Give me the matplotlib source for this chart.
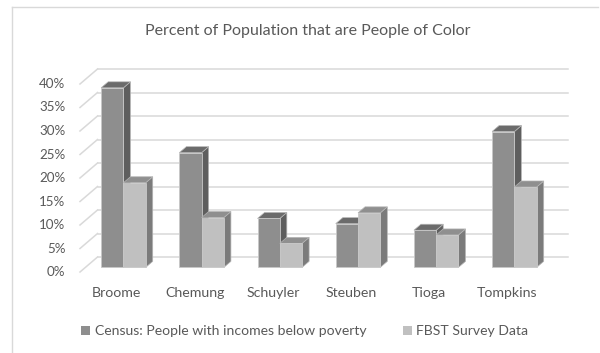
import matplotlib
matplotlib.use("Agg")
import matplotlib.pyplot as plt
from matplotlib.patches import Polygon, Rectangle, Patch

# Data
counties = ["Broome", "Chemung", "Schuyler", "Steuben", "Tioga", "Tompkins"]
census = [38.2, 24.4, 10.4, 9.3, 7.9, 28.9]
fbst = [18.0, 10.6, 5.1, 11.6, 6.9, 17.1]
series_names = ["Census: People with incomes below poverty", "FBST Survey Data"]
yticks = [0, 5, 10, 15, 20, 25, 30, 35, 40]

# Colours (front, top, side)
census_cols = ("#8e8e8e", "#6b6b6b", "#5e5e5e")
fbst_cols = ("#c0c0c0", "#8f8f8f", "#7b7b7b")
grid_col = "#d9d9d9"
text_col = "#595959"

plt.rcParams["font.family"] = ["Lato", "DejaVu Sans"]

fig = plt.figure(figsize=(6.0, 3.53), dpi=100)
ax = fig.add_axes([0, 0, 1, 1])
ax.set_xlim(-1.509, 6.164)
ax.set_ylim(-17.23, 57.87)
ax.axis("off")

# oblique depth vector (data units) and wall extents
dx, dy = 0.224, 3.19
x_left, x_right = -0.486, 5.53
bw = 0.285          # bar width
f0, bd = 0.31, 0.40  # bar front depth and bar depth (fractions of floor depth)

# back wall gridlines + left wall diagonals
for v in yticks:
    ax.plot([x_left + dx, x_right + dx], [v + dy, v + dy], color=grid_col, lw=1.1, zorder=1)
    ax.plot([x_left, x_left + dx], [v, v + dy], color=grid_col, lw=1.1, zorder=1)
    ax.text(x_left - 0.185, v, f"{v}%", ha="right", va="center", fontsize=9.6, color=text_col)


def bar3d(x0, val, cols, z):
    b = f0 * dy
    x0 = x0 + f0 * dx
    x1 = x0 + bw
    top = b + val
    ex, ey = bd * dx, bd * dy
    side = Polygon([(x1, b), (x1 + ex, b + ey), (x1 + ex, top + ey), (x1, top)],
                   closed=True, fc=cols[2], ec="#b5b5b5", lw=0.5, zorder=z)
    lid = Polygon([(x0, top), (x1, top), (x1 + ex, top + ey), (x0 + ex, top + ey)],
                  closed=True, fc=cols[1], ec="#b5b5b5", lw=0.5, zorder=z)
    front = Rectangle((x0, b), bw, val, fc=cols[0], ec="#c8c8c8", lw=0.6, zorder=z + 0.1)
    for p in (side, lid, front):
        ax.add_patch(p)


z = 2
for i in range(len(counties)):
    bar3d(i - bw, census[i], census_cols, z)
    z += 1
    bar3d(i, fbst[i], fbst_cols, z)
    z += 1

# category labels
for i, name in enumerate(counties):
    ax.text(i - 0.02, -4.4, name, ha="center", va="center", fontsize=10.2, color=text_col)

# title
fig.text(0.513, 0.912, "Percent of Population that are People of Color",
         ha="center", va="center", fontsize=11.5, color=text_col)

# legend
handles = [Patch(fc=census_cols[0], ec="none"), Patch(fc=fbst_cols[0], ec="none")]
fig.legend(handles, series_names, loc="center", bbox_to_anchor=(0.508, 0.062), ncol=2,
           frameon=False, fontsize=10.1, labelcolor=text_col, handlelength=0.65,
           handleheight=0.65, handletextpad=0.3, columnspacing=2.6)

# chart area border
fig.add_artist(plt.Line2D([0.02, 0.02], [0.0, 0.98], transform=fig.transFigure,
                          color=grid_col, lw=1))
fig.add_artist(plt.Line2D([0.02, 0.997], [0.98, 0.98], transform=fig.transFigure,
                          color=grid_col, lw=1))

fig.savefig("out.png", dpi=100, facecolor="white")
